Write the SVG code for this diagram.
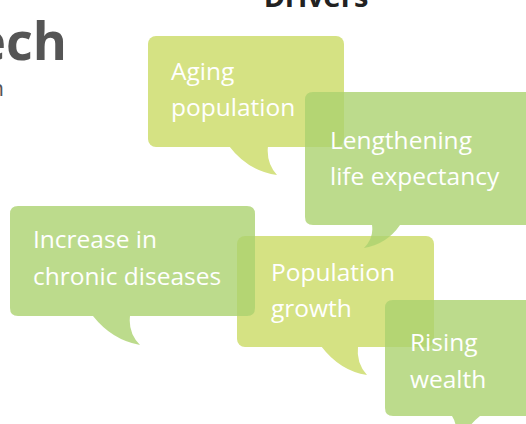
<svg xmlns="http://www.w3.org/2000/svg" width="526" height="424" viewBox="0 0 526 424">
  <style>
    .lime { fill: #d5e283; }
    .leaf { fill: #abd26f; fill-opacity: 0.8; }
    .label { font-family: "Open Sans", "Noto Sans", "Liberation Sans", sans-serif; font-size: 24.5px; fill: #ffffff; }
    .heading { font-family: "Open Sans", "Noto Sans", "Liberation Sans", sans-serif; font-weight: bold; }
  </style>
  <rect width="526" height="424" fill="#ffffff"/>

  <!-- headings -->
  <g id="title-fragment">
    <text class="heading" x="67" y="60" font-size="52" fill="#555555" text-anchor="end">ech</text>
    <text x="4" y="96" font-family="Open Sans, sans-serif" font-size="22" fill="#555555" text-anchor="end">n</text>
  </g>
  <g id="drivers-heading">
    <text class="heading" x="316" y="7" font-size="29" fill="#222222" text-anchor="middle">Drivers</text>
  </g>

  <!-- speech-bubble nodes -->
  <g id="aging-population">
    <rect class="lime" x="148" y="36" width="196" height="111" rx="8"/>
    <path class="lime" d="M229,146 Q248,171 277,175 Q266,163 268,146 Z"/>
    <text class="label" x="171" y="80">Aging</text>
    <text class="label" x="171" y="116">population</text>
  </g>

  <g id="population-growth">
    <rect class="lime" x="237" y="236" width="197" height="111" rx="8"/>
    <path class="lime" d="M321,346 Q340,371 367,375 Q356,363 358,346 Z"/>
    <text class="label" x="271" y="281">Population</text>
    <text class="label" x="271" y="317">growth</text>
  </g>

  <g id="lengthening-life-expectancy">
    <path class="leaf" d="M313,92 H530 V225 H400 Q387,244 364,248 Q374,238 372,225 H313 Q305,225 305,217 V100 Q305,92 313,92 Z"/>
    <text class="label" x="330" y="149">Lengthening</text>
    <text class="label" x="330" y="185">life expectancy</text>
  </g>

  <g id="increase-in-chronic-diseases">
    <path class="leaf" d="M18,206 H247 Q255,206 255,214 V308 Q255,316 247,316 H130 Q128,333 140,345 Q112,340 93,316 H18 Q10,316 10,308 V214 Q10,206 18,206 Z"/>
    <text class="label" x="33" y="248">Increase in</text>
    <text class="label" x="33" y="285">chronic diseases</text>
  </g>

  <g id="rising-wealth">
    <path class="leaf" d="M393,300 H530 V416 H480 Q470,424 468,430 H456 Q456,422 452,416 H393 Q385,416 385,408 V308 Q385,300 393,300 Z"/>
    <text class="label" x="410" y="351">Rising</text>
    <text class="label" x="410" y="388">wealth</text>
  </g>

  <!-- no connectors: the bubbles stand on their own -->
  <g id="connectors"/>
</svg>
